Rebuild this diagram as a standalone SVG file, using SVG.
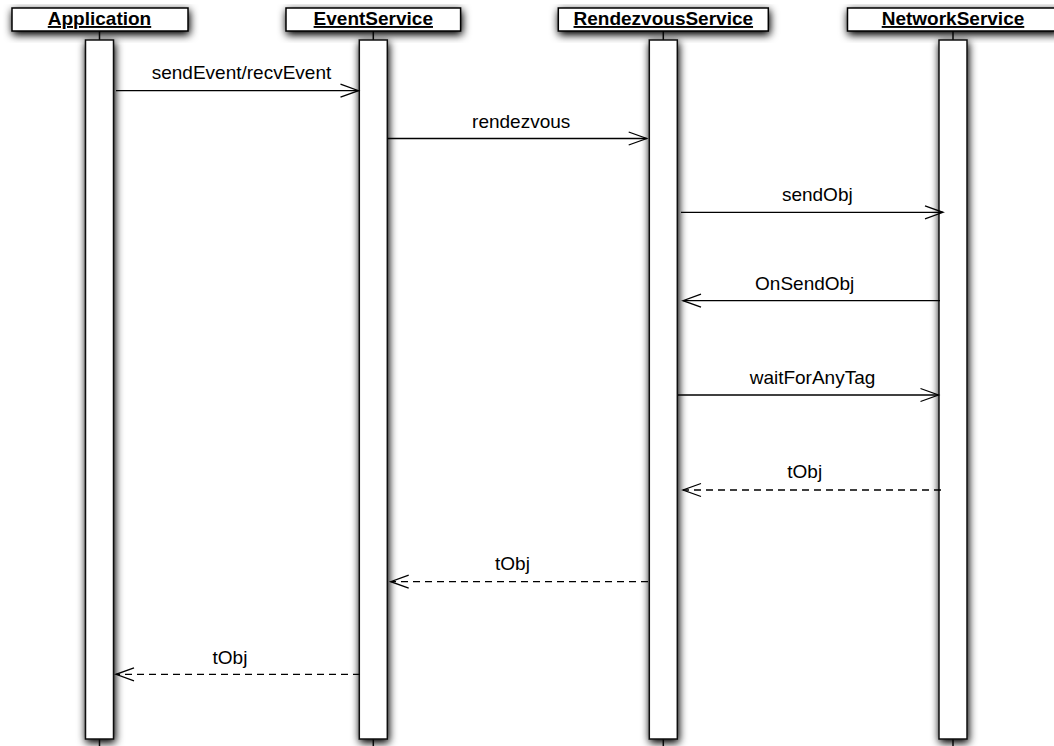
<svg xmlns="http://www.w3.org/2000/svg" width="1054" height="746" viewBox="0 0 1054 746">
<style>
.hdr{fill:#fff;stroke:#000;stroke-width:1.5}
.bar{fill:#fff;stroke:#111;stroke-width:1.5}
.stub{stroke:#111;stroke-width:1.5}
.ht{font-family:"Liberation Sans",Arial,sans-serif;font-size:19px;font-weight:bold;text-anchor:middle;text-decoration:underline;fill:#000}
.ml{font-family:"Liberation Sans",Arial,sans-serif;font-size:19px;text-anchor:middle;fill:#000}
.msg{fill:none;stroke:#000;stroke-width:1.3;marker-end:url(#open)}
.ret{stroke-dasharray:7 5}
</style>
<defs>
<filter id="sh" x="-100%" y="-30%" width="300%" height="180%">
<feGaussianBlur in="SourceAlpha" stdDeviation="4"/>
<feOffset dx="1" dy="3" result="b"/>
<feComponentTransfer in="b" result="s"><feFuncA type="linear" slope="1.1"/></feComponentTransfer>
<feMerge><feMergeNode in="s"/><feMergeNode in="SourceGraphic"/></feMerge>
</filter>
<marker id="open" markerUnits="userSpaceOnUse" viewBox="-20 -8 22 16" markerWidth="22" markerHeight="16" refX="0" refY="0" orient="auto" overflow="visible">
<path d="M-18,-6.5 L0,0 L-18,6.5" fill="none" stroke="#000" stroke-width="1.3" stroke-dasharray="none"/>
</marker>
</defs>
<rect width="1054" height="746" fill="#fff"/>

<g id="Application">
<line class="stub" x1="99.5" y1="31" x2="99.5" y2="746"/>
<rect class="hdr" x="12" y="8" width="176" height="23" filter="url(#sh)"/>
<text class="ht" x="99.5" y="25">Application</text>
<rect class="bar" x="85.5" y="40" width="28" height="699" filter="url(#sh)"/>
</g>

<g id="EventService">
<line class="stub" x1="373.3" y1="31" x2="373.3" y2="746"/>
<rect class="hdr" x="286" y="8" width="174.6" height="23" filter="url(#sh)"/>
<text class="ht" x="373.3" y="25">EventService</text>
<rect class="bar" x="359.3" y="40" width="28" height="699" filter="url(#sh)"/>
</g>

<g id="RendezvousService">
<line class="stub" x1="663.3" y1="31" x2="663.3" y2="746"/>
<rect class="hdr" x="558.3" y="8" width="210" height="23" filter="url(#sh)"/>
<text class="ht" x="663.3" y="25">RendezvousService</text>
<rect class="bar" x="649.3" y="40" width="28" height="699" filter="url(#sh)"/>
</g>

<g id="NetworkService">
<line class="stub" x1="953" y1="31" x2="953" y2="746"/>
<rect class="hdr" x="847.5" y="8" width="211" height="23" filter="url(#sh)"/>
<text class="ht" x="953" y="25">NetworkService</text>
<rect class="bar" x="939" y="40" width="28" height="699" filter="url(#sh)"/>
</g>

<g id="connectors">
<line class="msg" x1="116" y1="90.7" x2="358.5" y2="90.7"/>
<text class="ml" x="241.5" y="79">sendEvent/recvEvent</text>

<line class="msg" x1="387.5" y1="138.5" x2="646.7" y2="138.5"/>
<text class="ml" x="521.2" y="128.3">rendezvous</text>

<line class="msg" x1="681" y1="212.3" x2="943" y2="212.3"/>
<text class="ml" x="817.3" y="200.7">sendObj</text>

<line class="msg" x1="940" y1="300.7" x2="683" y2="300.7"/>
<text class="ml" x="804.7" y="289.5">OnSendObj</text>

<line class="msg" x1="678" y1="395" x2="938.5" y2="395"/>
<text class="ml" x="812.5" y="383.5">waitForAnyTag</text>

<line class="msg ret" x1="941" y1="490" x2="683" y2="490"/>
<text class="ml" x="804.7" y="477.7">tObj</text>

<line class="msg ret" x1="648" y1="581.7" x2="390.7" y2="581.7"/>
<text class="ml" x="512.5" y="569.5">tObj</text>

<line class="msg ret" x1="360" y1="674.3" x2="116" y2="674.3"/>
<text class="ml" x="230" y="664">tObj</text>
</g>
</svg>
